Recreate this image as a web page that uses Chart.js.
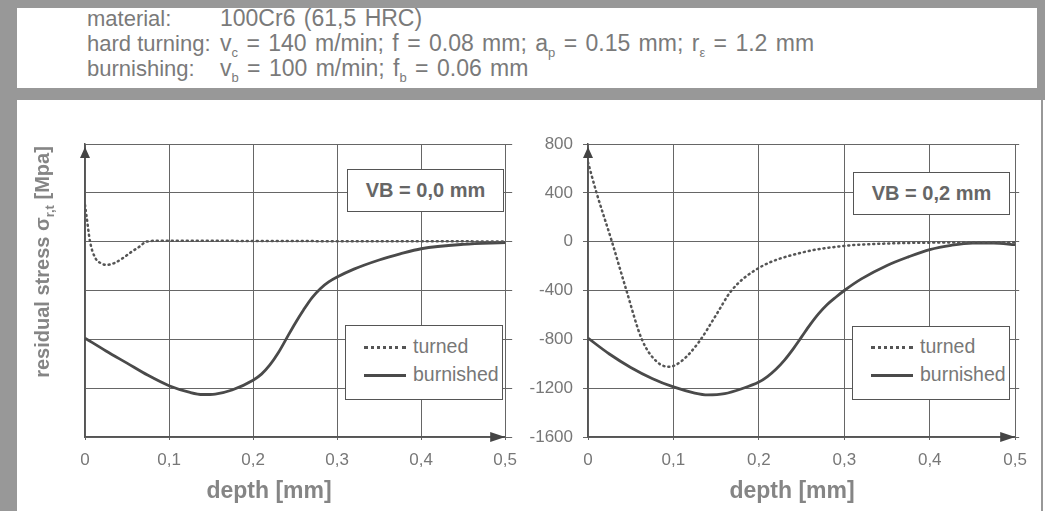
<!DOCTYPE html>
<html>
<head>
<meta charset="utf-8">
<script src="https://cdn.jsdelivr.net/npm/chart.js@4.4.1/dist/chart.umd.min.js"></script>
<style>
  body { margin: 0; width: 1045px; height: 511px; position: relative; overflow: hidden; background: #fff;
         font-family: 'Liberation Sans', Arial, sans-serif; color: #7a7a7a; }
  .gray { position: absolute; background: #989898; }
  .hdr { position: absolute; left: 87px; font-size: 23px; line-height: 22px; word-spacing: 2px; white-space: nowrap; }
  .hdr .lab { display: inline-block; width: 133px; word-spacing: 0; font-size: 22px; }
  .sub { font-size: 13px; position: relative; top: 6px; }
  .wrap { position: absolute; top: 100px; height: 411px; }
  .ytitle { position: absolute; width: 300px; height: 24px; line-height: 24px;
            text-align: center; transform: rotate(-90deg); font-weight: bold; font-size: 20px; color: #858585; white-space: nowrap; }
  .ytitle .sub { font-size: 13px; top: 5px; }
  .xtitle { position: absolute; top: 476px; width: 200px; height: 28px; line-height: 28px; text-align: center;
            font-weight: bold; font-size: 23px; color: #858585; }
  .vb { position: absolute; border: 1.5px solid #555; background: #fff; font-weight: bold; font-size: 20px;
        color: #666; text-align: center; box-sizing: border-box; }
  .leg { position: absolute; border: 1.5px solid #555; background: #fff; box-sizing: border-box; font-size: 19.5px; color: #777; }
  .leg .row { position: absolute; left: 18px; height: 20px; line-height: 20px; white-space: nowrap; }
  .leg .smp { display: inline-block; width: 42px; vertical-align: middle; margin-right: 7px; }
  .dotted { border-top: 3px dotted #555; }
  .solid { border-top: 3px solid #4a4a4a; }
</style>
</head>
<body>
<!-- frame -->
<div class="gray" style="left:0;top:0;width:1045px;height:8px"></div>
<div class="gray" style="left:0;top:0;width:17px;height:511px"></div>
<div class="gray" style="left:1037px;top:0;width:8px;height:100px"></div>
<div class="gray" style="left:0;top:88px;width:1045px;height:12px"></div>
<div class="gray" style="left:1041px;top:100px;width:2px;height:411px"></div>

<!-- header -->
<div class="hdr" style="top:7px"><span class="lab">material:</span>100Cr6 (61,5 HRC)</div>
<div class="hdr" style="top:32px"><span class="lab">hard turning:</span>v<span class="sub">c</span> = 140 m/min; f = 0.08 mm; a<span class="sub">p</span> = 0.15 mm; r<span class="sub">ε</span> = 1.2 mm</div>
<div class="hdr" style="top:57px"><span class="lab">burnishing:</span>v<span class="sub">b</span> = 100 m/min; f<span class="sub">b</span> = 0.06 mm</div>

<div class="wrap" style="left:17px;width:510px"><canvas id="chartL"></canvas></div>
<div class="wrap" style="left:520px;width:517px"><canvas id="chartR"></canvas></div>

<div class="ytitle" style="left:-108px;top:250px">residual stress σ<span class="sub">r,t</span> [Mpa]</div>
<div class="xtitle" style="left:169px">depth [mm]</div>
<div class="xtitle" style="left:692px">depth [mm]</div>

<div class="vb" style="left:347px;top:169px;width:157px;height:43px;line-height:40px">VB = 0,0 mm</div>
<div class="vb" style="left:853px;top:172px;width:157px;height:43px;line-height:40px">VB = 0,2 mm</div>

<div class="leg" style="left:345px;top:325px;width:158px;height:75px">
  <div class="row" style="top:10px"><span class="smp dotted"></span>turned</div>
  <div class="row" style="top:38px"><span class="smp solid"></span>burnished</div>
</div>
<div class="leg" style="left:852px;top:326px;width:158px;height:74px">
  <div class="row" style="top:9px"><span class="smp dotted"></span>turned</div>
  <div class="row" style="top:37px"><span class="smp solid"></span>burnished</div>
</div>

<script>
// ── Data (depth in mm, residual stress in MPa) ─────
const xTickLabels = ['0', '0,1', '0,2', '0,3', '0,4', '0,5'];
const yTicks = [800, 400, 0, -400, -800, -1200, -1600];

// VB = 0,0 mm
const depthTurnedL = [0, 0.002, 0.006, 0.012, 0.02, 0.026, 0.035, 0.045, 0.055, 0.065, 0.073, 0.09, 0.2, 0.3, 0.4, 0.5];
const turnedL      = [300, 200, 0, -130, -180, -190, -175, -135, -85, -40, 0, 8, 6, 4, 3, 2];
const depthBurnL   = [0, 0.025, 0.05, 0.075, 0.1, 0.125, 0.14, 0.155, 0.175, 0.2, 0.21, 0.22, 0.23, 0.24, 0.25, 0.26, 0.27, 0.28, 0.29, 0.3, 0.32, 0.35, 0.375, 0.4, 0.45, 0.5];
const burnL        = [-790, -895, -995, -1095, -1180, -1235, -1252, -1248, -1215, -1135, -1085, -1010, -910, -790, -670, -560, -460, -385, -330, -290, -225, -150, -100, -58, -22, -8];

// VB = 0,2 mm
const depthTurnedR = [0, 0.01, 0.028, 0.045, 0.063, 0.08, 0.095, 0.11, 0.13, 0.15, 0.168, 0.2, 0.25, 0.3, 0.35, 0.4, 0.5];
const turnedR      = [650, 400, 0, -400, -800, -980, -1025, -975, -820, -600, -400, -215, -90, -35, -15, -8, -5];
const depthBurnR   = [0, 0.025, 0.05, 0.075, 0.1, 0.125, 0.14, 0.16, 0.18, 0.2, 0.21, 0.22, 0.23, 0.24, 0.25, 0.26, 0.27, 0.28, 0.29, 0.3, 0.32, 0.35, 0.375, 0.4, 0.425, 0.45, 0.475, 0.5];
const burnR        = [-790, -920, -1030, -1120, -1190, -1240, -1255, -1245, -1205, -1150, -1105, -1045, -970, -880, -780, -680, -590, -515, -455, -400, -305, -195, -125, -65, -30, -12, -12, -25];

const pts = (xs, ys) => xs.map((x, i) => ({ x: x, y: ys[i] }));

// ── Axis arrows ─────────────────────────────────────
const axisArrows = {
    id: 'axisArrows',
    afterDraw(chart) {
        const { ctx } = chart;
        const x0 = chart.scales.x.getPixelForValue(0);
        const x1 = chart.scales.x.getPixelForValue(0.5);
        const yTop = chart.scales.y.getPixelForValue(800);
        const yBot = chart.scales.y.getPixelForValue(-1600);
        ctx.save();
        ctx.fillStyle = '#444';
        ctx.beginPath();
        ctx.moveTo(x0, yTop + 3);
        ctx.lineTo(x0 - 5, yTop + 14);
        ctx.lineTo(x0 + 5, yTop + 14);
        ctx.closePath();
        ctx.fill();
        ctx.beginPath();
        ctx.moveTo(x1, yBot);
        ctx.lineTo(x1 - 15, yBot - 5);
        ctx.lineTo(x1 - 15, yBot + 5);
        ctx.closePath();
        ctx.fill();
        ctx.restore();
    }
};

function buildChart(id, turned, burnished, showYLabels, rightWidth) {
    new Chart(document.getElementById(id), {
        type: 'line',
        data: {
            datasets: [
                {
                    label: 'turned',
                    data: turned,
                    borderColor: '#555',
                    borderWidth: 2.5,
                    borderDash: [1, 4],
                    borderCapStyle: 'round',
                    pointRadius: 0,
                    cubicInterpolationMode: 'monotone',
                },
                {
                    label: 'burnished',
                    data: burnished,
                    borderColor: '#4a4a4a',
                    borderWidth: 2.8,
                    pointRadius: 0,
                    cubicInterpolationMode: 'monotone',
                }
            ]
        },
        options: {
            responsive: true,
            maintainAspectRatio: false,
            animation: false,
            layout: { padding: { top: 44 } },
            plugins: { legend: { display: false }, tooltip: { enabled: false } },
            scales: {
                x: {
                    type: 'linear',
                    min: 0, max: 0.5,
                    afterFit: s => { s.height = 74; },
                    afterBuildTicks: s => { s.ticks = xTickLabels.map((t, i) => ({ value: i / 10 })); },
                    ticks: {
                        callback: (v, i) => xTickLabels[i],
                        color: '#777',
                        font: { size: 17 },
                        padding: 10,
                        maxRotation: 0,
                    },
                    grid: { color: '#666', lineWidth: 1, tickLength: 3 },
                    border: { color: '#555', width: 1.5 },
                },
                y: {
                    min: -1600, max: 800,
                    afterFit: s => { s.width = 68; },
                    afterBuildTicks: s => { s.ticks = yTicks.map(v => ({ value: v })); },
                    ticks: {
                        display: showYLabels,
                        callback: v => String(v),
                        color: '#777',
                        font: { size: 17 },
                        padding: 10,
                    },
                    grid: { color: '#666', lineWidth: 1, tickLength: showYLabels ? 5 : 0 },
                    border: { color: '#555', width: 1.5 },
                },
                yr: {
                    position: 'right',
                    min: -1600, max: 800,
                    afterFit: s => { s.width = rightWidth; },
                    afterBuildTicks: s => { s.ticks = yTicks.map(v => ({ value: v })); },
                    ticks: { display: false },
                    grid: { drawOnChartArea: false, color: '#666', tickLength: showYLabels ? 4 : 7 },
                    border: { color: '#666', width: 1 },
                }
            }
        },
        plugins: [axisArrows]
    });
}

buildChart('chartL', pts(depthTurnedL, turnedL), pts(depthBurnL, burnL), false, 17);
buildChart('chartR', pts(depthTurnedR, turnedR), pts(depthBurnR, burnR), true, 21);
</script>
</body>
</html>
